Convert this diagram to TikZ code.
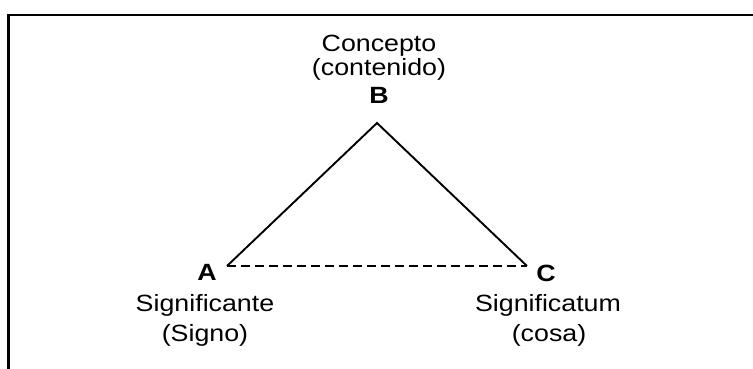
\documentclass[tikz,border=0pt]{standalone}
\usepackage{fontspec}
\setmainfont[FakeStretch=1.14]{Liberation Sans}
\begin{document}
\begin{tikzpicture}[x=1pt,y=-1pt,
  lbl/.style={anchor=base,inner sep=0pt,font=\fontsize{23.5}{27}\selectfont},
  letter/.style={anchor=base,inner sep=0pt,font=\fontsize{23.5}{27}\selectfont\bfseries},
  edge/.style={line width=1.9pt},
  frame/.style={line width=2.4pt}]
\useasboundingbox (0,0) rectangle (753,369);
% partial frame
\coordinate (f1) at (8.5,369);
\coordinate (f2) at (8.5,15);
\coordinate (f3) at (753,15);
\draw[frame] (f1) -- (f2) -- (f3);
% labels
\node[lbl] (conc) at (379,52) {Concepto};
\node[lbl] (cont) at (379,76) {(contenido)};
\node[letter] (B) at (379,103) {B};
\node[letter] (A) at (207,280) {A};
\node[lbl] (sig1) at (205,311) {Significante};
\node[lbl] (sig2) at (205,341) {(Signo)};
\node[letter] (C) at (546,281) {C};
\node[lbl] (sig3) at (548,311) {Significatum};
\node[lbl] (sig4) at (549,341) {(cosa)};
% triangle
\coordinate (pA) at (227,266);
\coordinate (pB) at (377,123);
\coordinate (pC) at (527,266);
\draw[edge] (pA) -- (pB) -- (pC);
\draw[edge,dash pattern=on 9pt off 5pt] (pA) -- (pC);
\end{tikzpicture}
\end{document}
